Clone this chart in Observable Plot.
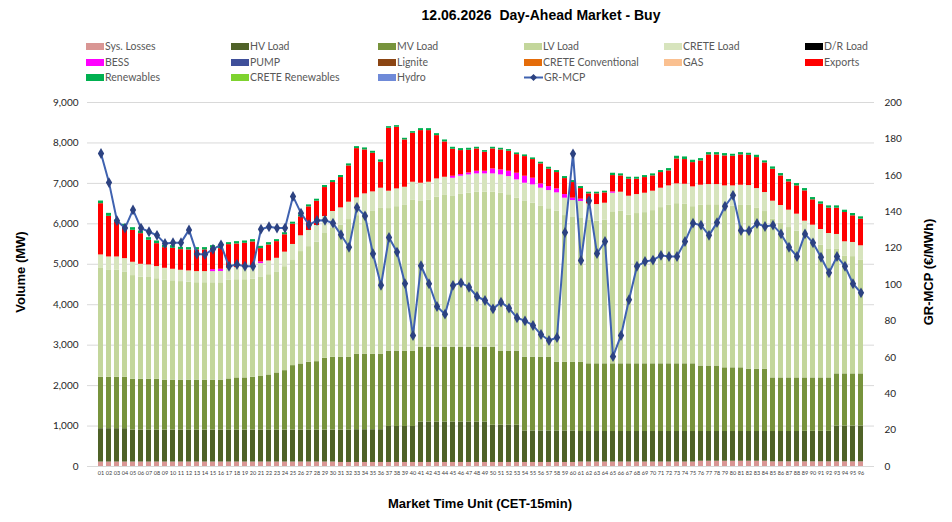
<!DOCTYPE html>
<html>
<head>
<meta charset="utf-8">
<script src="https://cdn.jsdelivr.net/npm/d3@7"></script>
<script src="https://cdn.jsdelivr.net/npm/@observablehq/plot@0.6"></script>
<style>
  body { margin: 0; background: #fff; }
  #wrap { position: relative; width: 952px; height: 522px; font-family: "Lato", "Noto Sans", sans-serif; overflow: hidden; }
  #chart { position: absolute; left: 0; top: 0; }
  .title { position: absolute; left: 541px; top: 15px; transform: translate(-50%, -50%); font: bold 14px "Liberation Sans", Arial, sans-serif; color: #000; white-space: nowrap; }
  .axtitle { position: absolute; transform: translate(-50%, -50%); font: bold 13px "Liberation Sans", Arial, sans-serif; color: #000; white-space: nowrap; }
  .rot { transform: translate(-50%, -50%) rotate(-90deg); }
  .lg { position: absolute; display: flex; align-items: center; transform: translateY(-50%); font-size: 10.5px; color: #595959; white-space: nowrap; }
  .lg .sw { width: 18px; height: 7px; margin-right: 1px; }
  .lg svg { margin-right: 1px; }
</style>
</head>
<body>
<div id="wrap">
  <div id="chart"></div>
  <div class="title">12.06.2026&nbsp;&nbsp;Day-Ahead Market - Buy</div>
  <div class="axtitle rot" style="left:20px; top:272px;">Volume (MW)</div>
  <div class="axtitle rot" style="left:928px; top:272px;">GR-MCP (€/MWh)</div>
  <div class="axtitle" style="left:480px; top:503px;">Market Time Unit (CET-15min)</div>
  <div id="legend"></div>
</div>
<script>
// Market time units 01..96 (15-minute intervals)
const mtu = d3.range(1, 97).map(i => String(i).padStart(2, "0"));

// Buy-side volumes per MTU (MW)
const sysLosses = [
  110,110,110,110,110,110,110,110,110,110,110,110,
  110,110,110,110,110,110,110,110,110,110,110,110,
  110,110,110,110,110,110,100,100,100,100,100,100,
  100,100,100,100,100,100,100,100,100,100,100,100,
  100,100,100,100,100,100,100,100,100,100,100,100,
  110,110,110,110,110,110,110,110,110,110,110,110,
  110,110,110,130,130,130,130,130,130,130,130,130,
  115,115,115,115,115,115,115,115,115,115,115,115
];
const hvLoad = [
  825,825,825,825,790,790,790,790,790,790,790,790,
  790,790,790,790,790,790,790,790,790,790,790,790,
  790,790,790,790,790,790,800,800,810,810,810,810,
  890,890,890,890,1000,1000,1000,1000,1000,1000,1000,1000,
  1000,920,920,920,920,780,780,780,780,780,780,780,
  755,755,755,755,755,755,755,755,755,755,755,755,
  755,755,755,735,735,735,735,735,735,735,735,735,
  750,750,750,750,755,755,755,755,885,885,885,885
];
const mvLoad = [
  1271,1271,1271,1271,1256,1256,1256,1256,1235,1235,1235,1235,
  1235,1235,1235,1235,1265,1290,1290,1306,1325,1363,1413,1470,
  1594,1635,1676,1692,1775,1800,1804,1804,1868,1868,1868,1868,
  1862,1862,1862,1862,1851,1851,1851,1851,1851,1851,1851,1851,
  1851,1931,1832,1832,1832,1824,1824,1824,1824,1700,1700,1700,
  1715,1674,1674,1674,1674,1674,1674,1674,1674,1674,1674,1674,
  1674,1674,1674,1619,1619,1619,1575,1575,1575,1542,1542,1542,
  1325,1325,1325,1325,1320,1320,1320,1320,1290,1290,1290,1290
];
const lvLoad = [
  2705,2655,2645,2604,2564,2524,2518,2487,2476,2457,2437,2421,
  2409,2409,2408,2407,2446,2428,2428,2427,2463,2479,2485,2570,
  2616,2779,2860,2957,3086,3185,3261,3401,3424,3513,3542,3603,
  3525,3572,3603,3727,3603,3628,3710,3751,3726,3777,3808,3834,
  3834,3834,3908,3867,3785,3850,3809,3727,3669,3736,3624,3576,
  3552,3545,3528,3551,3758,3773,3674,3715,3738,3788,3862,3919,
  3959,3950,3885,3981,3987,3987,3998,3998,4015,4049,3985,3897,
  3920,3823,3718,3629,3466,3377,3280,3191,3077,2906,2899,2817
];
const creteLoad = [
  320,320,330,330,330,320,310,300,290,285,280,280,
  275,275,275,280,290,300,300,310,330,340,350,360,
  380,390,400,410,420,420,430,430,440,450,470,500,
  430,440,450,450,450,450,450,450,450,450,450,450,
  450,450,450,450,450,450,450,450,450,450,430,420,
  420,410,410,420,460,470,470,470,480,480,480,480,
  490,490,490,490,500,500,500,500,500,490,480,470,
  450,440,430,420,410,400,390,380,370,360,350,350
];
const bess = [
  0,0,0,0,0,0,0,0,0,0,0,0,
  0,0,50,55,0,0,0,0,40,0,0,0,
  0,0,0,0,0,0,0,0,0,0,0,0,
  0,0,0,0,0,0,0,0,50,40,50,65,
  65,123,123,131,164,173,165,107,99,98,90,58,
  57,0,0,0,33,0,0,0,0,0,0,0,
  0,0,0,0,0,0,0,0,0,0,0,0,
  0,0,0,0,0,0,0,0,0,0,0,0
];
const exportsBuy = [
  1267,1004,864,782,790,757,609,567,511,518,510,518,
  535,535,527,510,585,584,601,609,329,395,412,430,
  502,469,584,601,716,716,749,897,1218,1086,955,642,
  1555,1523,1169,1210,1301,1276,1070,873,667,593,560,552,
  470,494,494,494,461,486,461,494,428,404,395,387,
  263,247,264,255,403,403,420,379,387,378,387,371,
  617,610,600,601,733,733,741,733,749,749,766,732,
  790,732,699,699,749,626,626,626,650,724,659,658
];
const renewables = [
  66,74,50,66,65,66,65,66,57,66,58,58,
  58,58,66,49,49,58,57,57,57,58,49,50,
  49,49,49,49,50,49,51,50,49,50,49,57,
  41,41,41,41,49,49,49,49,49,49,49,41,
  41,41,41,42,41,41,41,41,49,49,50,49,
  50,41,41,42,58,50,49,49,49,50,49,57,
  66,65,58,57,57,57,58,49,57,50,57,50,
  57,58,58,58,57,57,57,57,57,57,57,58
];

// Greek market clearing price per MTU (€/MWh)
const grMcp = [
  172,156,135,131,141,131,129,127,122.5,123,
  123,130,116.7,116.5,119.4,121.8,110,111,110,110,
  130.4,131.7,131,131,148.4,139.2,132.8,135.2,135.3,133.7,
  127.3,120.5,142.3,137.7,116.9,99.6,125.8,117.8,100.5,72,
  110.3,100.4,87.9,83.7,99.5,100.9,98.5,93.4,91.2,86.6,
  90.3,87,81.7,80,77.5,72.5,69.2,70.9,128.6,171.8,
  113.2,146,117,123.6,60.4,72,91.6,110,112.6,113.4,
  116,115.4,115.4,123.6,133.7,132.6,127,134,143,149,
  129.7,129.5,133.5,131.9,132.6,127.8,120.5,115.4,127.8,122.9,
  115,106.4,115.4,110,100.4,95.4
];

// Legend entries (name, colour), laid out in rows of six
const legendNames = [
  "Sys. Losses","HV Load","MV Load","LV Load","CRETE Load","D/R Load",
  "BESS","PUMP","Lignite","CRETE Conventional","GAS","Exports",
  "Renewables","CRETE Renewables","Hydro","GR-MCP"
];
const legendColors = [
  "#d99694","#4f6228","#77933c","#c3d69b","#d7e4bd","#000000",
  "#ff00ff","#3f4f9a","#8b4513","#e46c0a","#fac090","#ff0000",
  "#00b050","#7ed32f","#6f8ad8","#3f62b0"
];
const colorOf = Object.fromEntries(legendNames.map((n, i) => [n, legendColors[i]]));

// Stacked series, bottom to top
const stacked = [
  ["Sys. Losses", sysLosses], ["HV Load", hvLoad], ["MV Load", mvLoad],
  ["LV Load", lvLoad], ["CRETE Load", creteLoad], ["BESS", bess],
  ["Exports", exportsBuy], ["Renewables", renewables]
];
const rows = [];
for (const [name, values] of stacked) values.forEach((v, i) => rows.push({mtu: mtu[i], series: name, value: v}));
const priceRows = grMcp.map((p, i) => ({mtu: mtu[i], price: p}));

// the price axis (0–200) shares the volume axis range (0–9000)
const K = 9000 / 200;

const chart = Plot.plot({
  width: 952,
  height: 522,
  marginTop: 102,
  marginBottom: 56,
  marginLeft: 87,
  marginRight: 78,
  style: {fontFamily: "Lato, 'Noto Sans', sans-serif", color: "#262626", background: "transparent", overflow: "visible"},
  x: {type: "band", domain: mtu, paddingInner: 0.35, paddingOuter: 0.175},
  y: {domain: [0, 9000]},
  color: {domain: stacked.map(d => d[0]), range: stacked.map(d => colorOf[d[0]])},
  marks: [
    Plot.gridY(d3.range(0, 9001, 1000), {stroke: "#d9d9d9", strokeOpacity: 1}),
    Plot.barY(rows, {x: "mtu", y: "value", fill: "series"}),
    Plot.axisX({tickSize: 0, tickPadding: 5, fontSize: 5.5, label: null, fill: "#404040"}),
    Plot.axisY(d3.range(0, 9001, 1000), {anchor: "left", tickSize: 0, tickPadding: 9, fontSize: 10, tickFormat: d3.format(","), label: null}),
    Plot.axisY(d3.range(0, 9001, 900), {anchor: "right", tickSize: 0, tickPadding: 10, fontSize: 10, tickFormat: d => Math.round(d / K), label: null}),
    Plot.line(priceRows, {x: "mtu", y: d => d.price * K, stroke: "#3f62b0", strokeWidth: 2}),
    Plot.dot(priceRows, {x: "mtu", y: d => d.price * K, symbol: "diamond", r: 3.3, fill: "#2c4281", stroke: "none"})
  ]
});
document.getElementById("chart").append(chart);

// Legend
const colX = [86, 231, 378, 524, 664, 805];
const rowY = [46, 62, 77];
const legend = document.getElementById("legend");
legendNames.forEach((name, i) => {
  const el = document.createElement("div");
  el.className = "lg";
  el.style.left = colX[i % 6] + "px";
  el.style.top = rowY[Math.floor(i / 6)] + "px";
  if (name === "GR-MCP") {
    el.innerHTML = `<svg width="19" height="9"><line x1="0" y1="4.5" x2="19" y2="4.5" stroke="${legendColors[i]}" stroke-width="2"/><path d="M9.5,1 L13,4.5 L9.5,8 L6,4.5Z" fill="#2c4281"/></svg><span>${name}</span>`;
  } else {
    el.innerHTML = `<div class="sw" style="background:${legendColors[i]}"></div><span>${name}</span>`;
  }
  legend.append(el);
});
</script>
</body>
</html>
